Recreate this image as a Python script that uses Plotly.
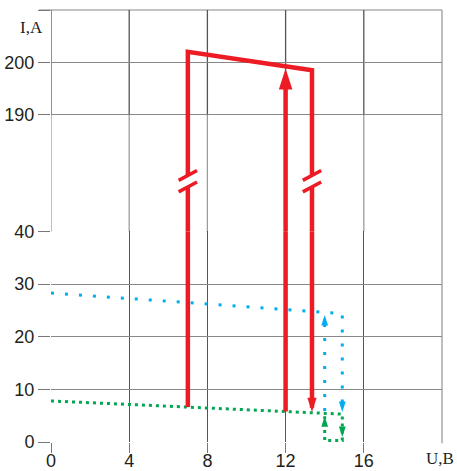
import plotly.graph_objects as go

# ---- data ----
x_ticks = [0, 4, 8, 12, 16]
x_ticktext = ["0", "4", "8", "12", "16"]
y_low_ticks = [0, 10, 20, 30, 40]
y_high_ticks = [190, 200, 210]
y_high_ticktext = ["190", "200", ""]

# blue dotted curve
blue_x = [0, 14.9, 14.9]
blue_y = [28.3, 24.4, 5.7]
blue_up_x = [14.0, 14.0]
blue_up_y = [5.9, 24.1]

# green dotted curve
green_x = [0, 14.9, 14.9, 14.0, 14.0]
green_y = [7.8, 5.3, 0.3, 0.3, 4.9]

# red loop
red_left_x = 7.0
red_right_x = 13.35
red_mid_x = 12.0
red_left_bottom = 6.65
red_left_top = 202.0
red_right_top = 198.5
red_right_bottom = 5.7
red_mid_bottom = 5.8
red_mid_top = 198.8
break_upper = 178.4
break_lower = 176.2

# axis geometry
low_range = [0, 40]
high_range = [167.7, 210]
split = 0.4875

RED = "#ed1c24"
BLUE = "#00aeef"
GREEN = "#00a651"
GRIDV = "#555555"
GRIDH = "#888888"

fig = go.Figure()

# dotted grid lines across the axis break
gx, gy = [], []
for xv in x_ticks:
    gx += [xv, xv, None]
    gy += [high_range[0], 190, None]
fig.add_trace(go.Scatter(x=gx, y=gy, mode="lines", xaxis="x2", yaxis="y2", hoverinfo="skip",
                         line=dict(color="#3a3a3a", width=1.3, dash="1px,1px")))

# blue
fig.add_trace(go.Scatter(x=blue_x, y=blue_y, mode="lines", xaxis="x", yaxis="y",
                         line=dict(color=BLUE, width=3, dash="3px,11px")))
fig.add_trace(go.Scatter(x=blue_up_x, y=blue_up_y, mode="lines", xaxis="x", yaxis="y",
                         line=dict(color=BLUE, width=3, dash="3px,11px")))
# green
fig.add_trace(go.Scatter(x=green_x, y=green_y, mode="lines", xaxis="x", yaxis="y",
                         line=dict(color=GREEN, width=3, dash="3px,4px")))

# red, lower part
top_low = low_range[1] + 1
fig.add_trace(go.Scatter(
    x=[red_left_x, red_left_x, None, red_mid_x, red_mid_x, None, red_right_x, red_right_x],
    y=[red_left_bottom, top_low, None, red_mid_bottom, top_low, None, top_low, red_right_bottom + 0.8],
    mode="lines", xaxis="x", yaxis="y", line=dict(color=RED, width=4.5)))

# red, upper part
bot_high = high_range[0] - 1
fig.add_trace(go.Scatter(
    x=[red_left_x, red_left_x, None,
       red_left_x, red_left_x, red_right_x, red_right_x, None,
       red_right_x, red_right_x, None,
       red_mid_x, red_mid_x],
    y=[bot_high, break_lower, None,
       break_upper, red_left_top, red_right_top, break_upper, None,
       break_lower, bot_high, None,
       bot_high, red_mid_top - 3],
    mode="lines", xaxis="x2", yaxis="y2", line=dict(color=RED, width=4.5)))

# break marks
bx, by = [], []
for xv in [red_left_x, red_right_x]:
    for yc in [break_upper, break_lower]:
        bx += [xv - 0.47, xv + 0.47, None]
        by += [yc - 0.95, yc + 0.95, None]
fig.add_trace(go.Scatter(x=bx, y=by, mode="lines", xaxis="x2", yaxis="y2",
                         line=dict(color=RED, width=3.5)))

# arrowheads
def arrow(x, y, ax, ay, color, size, angle):
    fig.add_trace(go.Scatter(x=[x], y=[y], mode="markers", xaxis=ax, yaxis=ay,
                             marker=dict(symbol="arrow", size=size, color=color, angle=angle,
                                         line=dict(width=0))))

arrow(red_mid_x, red_mid_top, "x2", "y2", RED, 22, 0)
arrow(red_right_x, red_right_bottom, "x", "y", RED, 15, 180)
arrow(blue_up_x[1], blue_up_y[1], "x", "y", BLUE, 11, 0)
arrow(blue_x[2], blue_y[2], "x", "y", BLUE, 11, 180)
arrow(green_x[4], green_y[4], "x", "y", GREEN, 11, 0)
arrow(green_x[1], 0.95, "x", "y", GREEN, 11, 180)

# solid grid lines of the upper panel, right border and top border
shapes = []
for xv in x_ticks:
    shapes.append(dict(type="line", xref="x2", yref="y2", x0=xv, x1=xv, y0=190, y1=210,
                       line=dict(color=GRIDV, width=1.3), layer="below"))
shapes.append(dict(type="line", xref="paper", yref="paper", x0=1, x1=1, y0=-0.003, y1=1,
                   line=dict(color="#a8a8a8", width=1.5), layer="below"))
shapes.append(dict(type="line", xref="paper", yref="paper", x0=-12 / 391, x1=1, y0=1, y1=1,
                   line=dict(color=GRIDH, width=1.2), layer="below"))

tickfont = dict(family="Liberation Sans, Arial, sans-serif", size=18, color="#231f20")
serif = dict(family="Liberation Serif, Times New Roman, serif", size=17, color="#231f20")

fig.update_layout(
    width=457, height=471,
    margin=dict(l=51, r=15, t=10, b=29, autoexpand=False),
    paper_bgcolor="white", plot_bgcolor="white",
    showlegend=False,
    shapes=shapes,
    xaxis=dict(domain=[0, 1], range=[0, 20], anchor="y", tickvals=x_ticks, ticktext=x_ticktext,
               showgrid=True, gridcolor=GRIDV, gridwidth=1.3, zeroline=False, showline=False,
               ticks="outside", ticklen=10, tickcolor="#777777", tickwidth=1, tickfont=tickfont,
               ticklabelstandoff=-8, automargin=False),
    xaxis2=dict(domain=[0, 1], matches="x", anchor="y2", showticklabels=False, showgrid=False,
                zeroline=False, showline=False, ticks="", automargin=False),
    yaxis=dict(domain=[0, split], range=low_range, tickvals=y_low_ticks, showgrid=True,
               gridcolor=GRIDH, gridwidth=1.2, zeroline=False, showline=False,
               ticks="outside", ticklen=12, tickcolor="#777777", tickfont=tickfont,
               automargin=False),
    yaxis2=dict(domain=[split, 1], range=high_range, tickvals=y_high_ticks, ticktext=y_high_ticktext,
                showgrid=True, gridcolor=GRIDH, gridwidth=1.2, zeroline=False, showline=False,
                ticks="outside", ticklen=12, tickcolor="#777777", tickfont=tickfont,
                automargin=False),
    annotations=[
        dict(text="I,A", xref="paper", x=0, xanchor="right", xshift=-6, yref="y2", y=206.7,
             yanchor="middle", showarrow=False, font=serif),
        dict(text="U,B", xref="paper", x=1, xanchor="center", xshift=-2, yref="y", y=0,
             yanchor="top", yshift=-5, showarrow=False, font=serif),
    ],
)

# remove the default page margin so the figure fills the window exactly
fig.write_html("out.html", config={"displayModeBar": False},
               post_script="document.body.style.margin='0';")
